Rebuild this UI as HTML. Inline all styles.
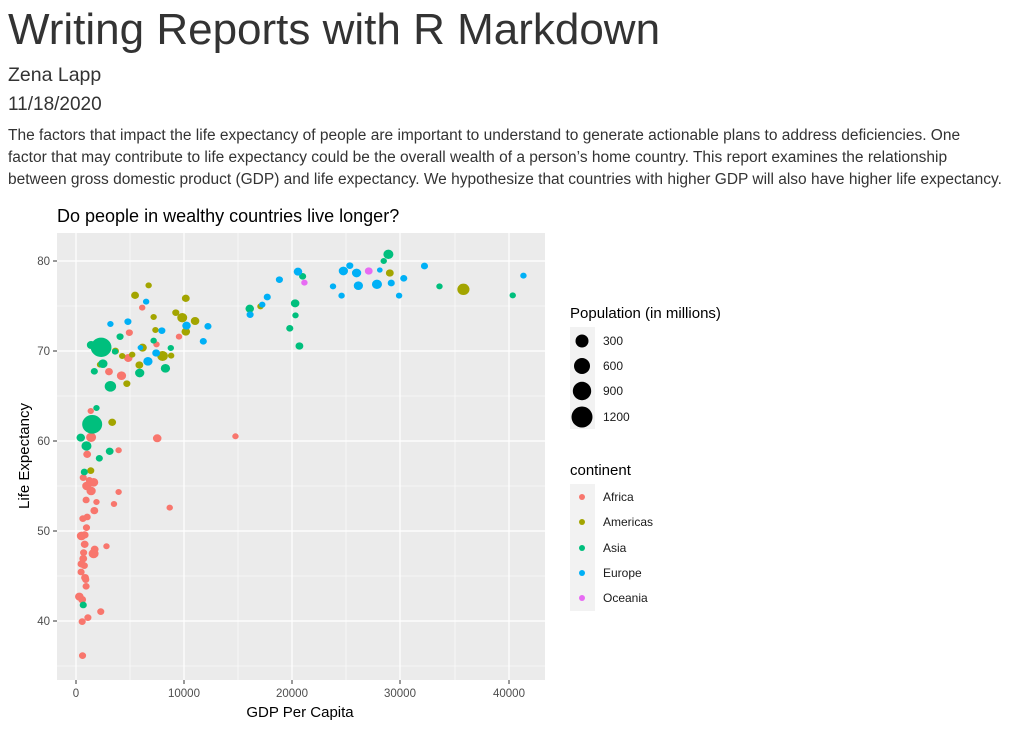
<!DOCTYPE html>
<html><head><meta charset="utf-8"><style>
body{margin:0;width:1019px;height:735px;background:#fff;font-family:"Liberation Sans",sans-serif;color:#333;overflow:hidden;position:relative}
.a{position:absolute;white-space:nowrap}
</style></head><body>
<div class="a" style="left:8px;top:5px;font-size:44px;">Writing Reports with R Markdown</div>
<div class="a" style="left:8px;top:64px;font-size:19.5px;">Zena Lapp</div>
<div class="a" style="left:8px;top:94px;font-size:19px;">11/18/2020</div>
<div class="a" style="left:8px;top:125px;font-size:15.5px;line-height:22px;">The factors that impact the life expectancy of people are important to understand to generate actionable plans to address deficiencies. One<br>factor that may contribute to life expectancy could be the overall wealth of a person’s home country. This report examines the relationship<br>between gross domestic product (GDP) and life expectancy. We hypothesize that countries with higher GDP will also have higher life expectancy.</div>
<svg class="a" style="left:0;top:0" width="1019" height="735" font-family="Liberation Sans, sans-serif">
<text x="57" y="222" font-size="18" fill="#000">Do people in wealthy countries live longer?</text>
<rect x="57" y="233" width="488" height="447" fill="#ebebeb"/>
<g stroke="#fff" stroke-width="0.6">
<line x1="130" y1="233" x2="130" y2="680"/><line x1="238" y1="233" x2="238" y2="680"/><line x1="346" y1="233" x2="346" y2="680"/><line x1="455" y1="233" x2="455" y2="680"/>
<line x1="57" y1="306" x2="545" y2="306"/><line x1="57" y1="396" x2="545" y2="396"/><line x1="57" y1="486" x2="545" y2="486"/><line x1="57" y1="576" x2="545" y2="576"/><line x1="57" y1="666" x2="545" y2="666"/>
</g>
<g stroke="#fff" stroke-width="1.2">
<line x1="76" y1="233" x2="76" y2="680"/><line x1="184" y1="233" x2="184" y2="680"/><line x1="292" y1="233" x2="292" y2="680"/><line x1="400" y1="233" x2="400" y2="680"/><line x1="509" y1="233" x2="509" y2="680"/>
<line x1="57" y1="261" x2="545" y2="261"/><line x1="57" y1="351" x2="545" y2="351"/><line x1="57" y1="441" x2="545" y2="441"/><line x1="57" y1="531" x2="545" y2="531"/><line x1="57" y1="621" x2="545" y2="621"/>
</g>
<g stroke="#333" stroke-width="1">
<line x1="53" y1="261" x2="57" y2="261"/><line x1="53" y1="351" x2="57" y2="351"/><line x1="53" y1="441" x2="57" y2="441"/><line x1="53" y1="531" x2="57" y2="531"/><line x1="53" y1="621" x2="57" y2="621"/>
<line x1="76" y1="680" x2="76" y2="684"/><line x1="184" y1="680" x2="184" y2="684"/><line x1="292" y1="680" x2="292" y2="684"/><line x1="400" y1="680" x2="400" y2="684"/><line x1="509" y1="680" x2="509" y2="684"/>
</g>
<g font-size="11.5" fill="#4d4d4d" text-anchor="end">
<text x="50" y="265">80</text><text x="50" y="355">70</text><text x="50" y="445">60</text><text x="50" y="535">50</text><text x="50" y="625">40</text></g>
<g font-size="11.5" fill="#4d4d4d" text-anchor="middle">
<text x="76" y="697">0</text><text x="184" y="697">10000</text><text x="292" y="697">20000</text><text x="400" y="697">30000</text><text x="509" y="697">40000</text></g>
<text x="300" y="717" font-size="15" text-anchor="middle" fill="#000">GDP Per Capita</text>
<text transform="translate(29,456) rotate(-90)" font-size="15" text-anchor="middle" fill="#000">Life Expectancy</text>
<g transform="matrix(0.3573 0 0 0.3333 0 201)" stroke-width="4">
<g fill="#F8766D" stroke="#F8766D">
<circle cx="659" cy="706" r="7"/><circle cx="440" cy="712" r="10"/><circle cx="398" cy="320" r="7"/><circle cx="362" cy="395" r="8"/><circle cx="501" cy="407" r="7"/><circle cx="438" cy="430" r="7"/><circle cx="359" cy="471" r="10"/><circle cx="305" cy="512" r="9"/><circle cx="340" cy="524" r="11"/><circle cx="254" cy="630" r="7"/><circle cx="255" cy="709" r="12"/><circle cx="244" cy="760" r="9"/><circle cx="332" cy="748" r="7"/><circle cx="475" cy="920" r="7"/><circle cx="332" cy="873" r="7"/><circle cx="319" cy="909" r="7"/><circle cx="270" cy="903" r="7"/><circle cx="264" cy="929" r="9"/><circle cx="241" cy="897" r="8"/><circle cx="233" cy="830" r="8"/><circle cx="250" cy="838" r="8"/><circle cx="262" cy="844" r="11"/><circle cx="255" cy="870" r="11"/><circle cx="243" cy="855" r="11"/><circle cx="232" cy="953" r="8"/><circle cx="244" cy="948" r="8"/><circle cx="242" cy="980" r="8"/><circle cx="237" cy="1002" r="9"/><circle cx="228" cy="1005" r="11"/><circle cx="237" cy="1030" r="9"/><circle cx="265" cy="1045" r="9"/><circle cx="262" cy="1058" r="12"/><circle cx="234" cy="1055" r="8"/><circle cx="298" cy="1036" r="7"/><circle cx="233" cy="1073" r="9"/><circle cx="236" cy="1094" r="8"/><circle cx="228" cy="1089" r="9"/><circle cx="227" cy="1113" r="8"/><circle cx="238" cy="1130" r="9"/><circle cx="240" cy="1136" r="8"/><circle cx="241" cy="1156" r="8"/><circle cx="222" cy="1187" r="10"/><circle cx="230" cy="1196" r="9"/><circle cx="282" cy="1232" r="8"/><circle cx="246" cy="1250" r="8"/><circle cx="230" cy="1262" r="8"/><circle cx="231" cy="1364" r="8"/>
</g>
<g fill="#A3A500" stroke="#A3A500">
<circle cx="1297" cy="265" r="15"/><circle cx="1091" cy="216" r="9"/><circle cx="729" cy="316" r="7"/><circle cx="378" cy="283" r="9"/><circle cx="416" cy="253" r="7"/><circle cx="520" cy="292" r="9"/><circle cx="430" cy="348" r="7"/><circle cx="492" cy="335" r="8"/><circle cx="510" cy="350" r="12"/><circle cx="546" cy="360" r="10"/><circle cx="520" cy="392" r="10"/><circle cx="435" cy="387" r="7"/><circle cx="479" cy="464" r="7"/><circle cx="455" cy="465" r="13"/><circle cx="399" cy="440" r="10"/><circle cx="370" cy="461" r="7"/><circle cx="342" cy="465" r="7"/><circle cx="323" cy="450" r="8"/><circle cx="390" cy="492" r="9"/><circle cx="355" cy="548" r="8"/><circle cx="280" cy="491" r="7"/><circle cx="314" cy="664" r="9"/><circle cx="254" cy="809" r="8"/>
</g>
<g fill="#00BF7D" stroke="#00BF7D">
<circle cx="1087" cy="160" r="12"/><circle cx="1074" cy="180" r="7"/><circle cx="847" cy="226" r="8"/><circle cx="1230" cy="256" r="7"/><circle cx="1435" cy="283" r="7"/><circle cx="699" cy="323" r="10"/><circle cx="826" cy="307" r="10"/><circle cx="827" cy="343" r="7"/><circle cx="811" cy="382" r="8"/><circle cx="838" cy="435" r="9"/><circle cx="336" cy="407" r="8"/><circle cx="430" cy="419" r="7"/><circle cx="478" cy="441" r="7"/><circle cx="322" cy="452" r="7"/><circle cx="288" cy="488" r="11"/><circle cx="264" cy="511" r="8"/><circle cx="309" cy="556" r="14"/><circle cx="391" cy="516" r="11"/><circle cx="463" cy="502" r="11"/><circle cx="283" cy="439" r="27"/><circle cx="255" cy="432" r="10"/><circle cx="270" cy="621" r="7"/><circle cx="258" cy="670" r="26"/><circle cx="226" cy="710" r="10"/><circle cx="242" cy="735" r="12"/><circle cx="307" cy="751" r="9"/><circle cx="278" cy="772" r="8"/><circle cx="236" cy="813" r="8"/><circle cx="233" cy="1212" r="8"/>
</g>
<g fill="#00B0F6" stroke="#00B0F6">
<circle cx="1465" cy="224" r="7"/><circle cx="1188" cy="195" r="8"/><circle cx="1130" cy="232" r="8"/><circle cx="1095" cy="246" r="8"/><circle cx="1063" cy="207" r="6"/><circle cx="1055" cy="250" r="12"/><circle cx="1003" cy="254" r="11"/><circle cx="998" cy="216" r="11"/><circle cx="961" cy="210" r="11"/><circle cx="979" cy="194" r="8"/><circle cx="932" cy="256" r="7"/><circle cx="956" cy="284" r="7"/><circle cx="1117" cy="284" r="7"/><circle cx="834" cy="212" r="10"/><circle cx="782" cy="236" r="8"/><circle cx="748" cy="288" r="8"/><circle cx="734" cy="311" r="7"/><circle cx="700" cy="341" r="8"/><circle cx="582" cy="376" r="8"/><circle cx="569" cy="421" r="8"/><circle cx="522" cy="374" r="10"/><circle cx="453" cy="389" r="8"/><circle cx="437" cy="456" r="9"/><circle cx="414" cy="481" r="11"/><circle cx="409" cy="302" r="7"/><circle cx="358" cy="362" r="8"/><circle cx="309" cy="369" r="7"/><circle cx="393" cy="440" r="6"/>
</g>
<g fill="#E76BF3" stroke="#E76BF3"><circle cx="1032" cy="210" r="9"/><circle cx="852" cy="245" r="7"/></g>
</g>
<text x="570" y="318" font-size="15" fill="#000">Population (in millions)</text>
<rect x="570" y="327" width="25" height="102" fill="#f2f2f2"/>
<circle cx="582" cy="341" r="6.5"/><circle cx="582" cy="366" r="8"/><circle cx="582" cy="391" r="9.2"/><circle cx="582" cy="417" r="10.5"/>
<g font-size="12" fill="#1a1a1a"><text x="603" y="345">300</text><text x="603" y="370">600</text><text x="603" y="395">900</text><text x="603" y="421">1200</text></g>
<text x="570" y="475" font-size="15" fill="#000">continent</text>
<rect x="570" y="484" width="25" height="127" fill="#f2f2f2"/>
<circle cx="582" cy="497" r="3" fill="#F8766D"/><circle cx="582" cy="522" r="3" fill="#A3A500"/><circle cx="582" cy="548" r="3" fill="#00BF7D"/><circle cx="582" cy="573" r="3" fill="#00B0F6"/><circle cx="582" cy="598" r="3" fill="#E76BF3"/>
<g font-size="12" fill="#1a1a1a"><text x="603" y="501">Africa</text><text x="603" y="526">Americas</text><text x="603" y="552">Asia</text><text x="603" y="577">Europe</text><text x="603" y="602">Oceania</text></g>
</svg>
</body></html>
